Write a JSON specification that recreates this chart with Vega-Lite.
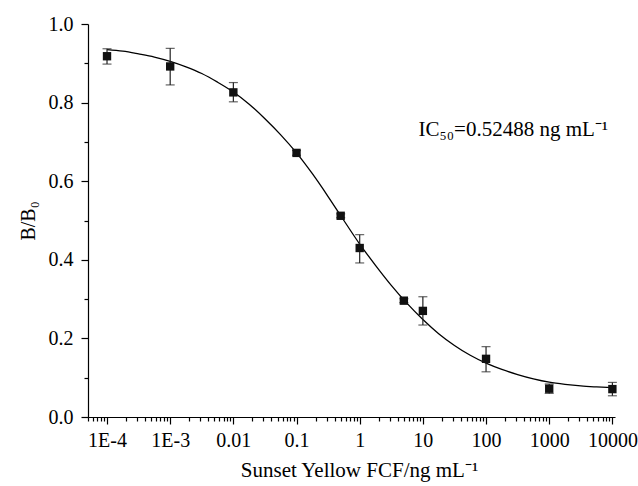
{
  "$schema": "https://vega.github.io/schema/vega-lite/v6.json",
  "width": 527,
  "height": 393,
  "autosize": "none",
  "padding": {"left": 88, "top": 24, "right": 23, "bottom": 69},
  "background": "white",
  "datasets": {
    "pts": [
      {"x": 0.0001, "y": 0.918, "lo": 0.898, "hi": 0.937},
      {"x": 0.001, "y": 0.892, "lo": 0.845, "hi": 0.938},
      {"x": 0.01, "y": 0.826, "lo": 0.802, "hi": 0.851},
      {"x": 0.1, "y": 0.672, "lo": 0.666, "hi": 0.678},
      {"x": 0.5, "y": 0.512, "lo": 0.507, "hi": 0.517},
      {"x": 1, "y": 0.430, "lo": 0.392, "hi": 0.464},
      {"x": 5, "y": 0.296, "lo": 0.291, "hi": 0.301},
      {"x": 10, "y": 0.270, "lo": 0.234, "hi": 0.306},
      {"x": 100, "y": 0.148, "lo": 0.115, "hi": 0.179},
      {"x": 1000, "y": 0.072, "lo": 0.060, "hi": 0.084},
      {"x": 10000, "y": 0.071, "lo": 0.054, "hi": 0.088}
    ],
    "curve": [
      {"x": 0.0001, "y": 0.935},
      {"x": 0.000178, "y": 0.931},
      {"x": 0.000316, "y": 0.924},
      {"x": 0.000562, "y": 0.916},
      {"x": 0.001, "y": 0.905},
      {"x": 0.00178, "y": 0.891},
      {"x": 0.00316, "y": 0.874},
      {"x": 0.00562, "y": 0.852},
      {"x": 0.01, "y": 0.827},
      {"x": 0.0178, "y": 0.796},
      {"x": 0.0316, "y": 0.759},
      {"x": 0.0562, "y": 0.718},
      {"x": 0.1, "y": 0.672},
      {"x": 0.178, "y": 0.619},
      {"x": 0.316, "y": 0.561},
      {"x": 0.562, "y": 0.500},
      {"x": 1, "y": 0.440},
      {"x": 1.778, "y": 0.386},
      {"x": 3.162, "y": 0.335},
      {"x": 5.623, "y": 0.289},
      {"x": 10, "y": 0.248},
      {"x": 17.78, "y": 0.212},
      {"x": 31.62, "y": 0.182},
      {"x": 56.23, "y": 0.157},
      {"x": 100, "y": 0.137},
      {"x": 177.8, "y": 0.121},
      {"x": 316.2, "y": 0.108},
      {"x": 562.3, "y": 0.097},
      {"x": 1000, "y": 0.0885},
      {"x": 1778, "y": 0.083},
      {"x": 3162, "y": 0.079},
      {"x": 5623, "y": 0.0765},
      {"x": 10000, "y": 0.0745}
    ],
    "ann": [
      {"x": 8.5, "y": 0.714, "label": "IC₅₀=0.52488 ng mL⁻¹"}
    ]
  },
  "layer": [
    {
      "data": {"name": "curve"},
      "mark": {"type": "line", "color": "black", "strokeWidth": 1.3, "interpolate": "monotone"},
      "encoding": {
        "x": {
          "field": "x", "type": "quantitative",
          "scale": {"type": "log", "domain": [0.00005, 11000], "nice": false},
          "axis": {
            "orient": "bottom",
            "values": [0.0001, 0.001, 0.01, 0.1, 1, 10, 100, 1000, 10000],
            "labelExpr": "datum.value < 0.00015 ? '1E-4' : datum.value < 0.0015 ? '1E-3' : format(datum.value, '~g')",
            "tickSize": 7,
            "labelPadding": 6,
            "labelFlush": false,
            "labelOverlap": false,
            "labelFont": "Liberation Serif",
            "labelFontSize": 20,
            "title": "Sunset Yellow FCF/ng mL⁻¹",
            "titleFont": "Liberation Serif",
            "titleFontSize": 21,
            "titlePadding": 9,
            "titleX": 271
          }
        },
        "y": {
          "field": "y", "type": "quantitative",
          "scale": {"domain": [0, 1], "nice": false, "zero": false},
          "axis": {
            "orient": "left",
            "values": [0, 0.2, 0.4, 0.6, 0.8, 1.0],
            "format": ".1f",
            "tickSize": 7,
            "labelPadding": 8,
            "labelFlush": false,
            "labelOverlap": false,
            "labelFont": "Liberation Serif",
            "labelFontSize": 20,
            "title": "B/B₀",
            "titleFont": "Liberation Serif",
            "titleFontSize": 20,
            "titlePadding": 10
          }
        }
      }
    },
    {
      "data": {"name": "pts"},
      "mark": {"type": "rule", "color": "#222", "strokeWidth": 1.2},
      "encoding": {
        "x": {"field": "x", "type": "quantitative", "scale": {"type": "log", "domain": [0.00005, 11000], "nice": false}, "axis": null},
        "y": {"field": "lo", "type": "quantitative", "scale": {"domain": [0, 1], "nice": false, "zero": false}, "axis": null},
        "y2": {"field": "hi"}
      }
    },
    {
      "data": {"name": "pts"},
      "mark": {"type": "tick", "orient": "horizontal", "size": 9, "thickness": 1.2, "color": "#222"},
      "encoding": {
        "x": {"field": "x", "type": "quantitative", "scale": {"type": "log", "domain": [0.00005, 11000], "nice": false}, "axis": null},
        "y": {"field": "lo", "type": "quantitative", "scale": {"domain": [0, 1], "nice": false, "zero": false}, "axis": null}
      }
    },
    {
      "data": {"name": "pts"},
      "mark": {"type": "tick", "orient": "horizontal", "size": 9, "thickness": 1.2, "color": "#222"},
      "encoding": {
        "x": {"field": "x", "type": "quantitative", "scale": {"type": "log", "domain": [0.00005, 11000], "nice": false}, "axis": null},
        "y": {"field": "hi", "type": "quantitative", "scale": {"domain": [0, 1], "nice": false, "zero": false}, "axis": null}
      }
    },
    {
      "data": {"name": "pts"},
      "mark": {"type": "square", "filled": true, "color": "#111", "size": 70, "opacity": 1},
      "encoding": {
        "x": {
          "field": "x", "type": "quantitative",
          "scale": {"type": "log", "domain": [0.00005, 11000], "nice": false},
          "axis": {
            "orient": "bottom",
            "values": [0.00005, 0.00006, 0.00007, 0.00008, 0.00009,
                       0.0002, 0.0003, 0.0004, 0.0005, 0.0006, 0.0007, 0.0008, 0.0009,
                       0.002, 0.003, 0.004, 0.005, 0.006, 0.007, 0.008, 0.009,
                       0.02, 0.03, 0.04, 0.05, 0.06, 0.07, 0.08, 0.09,
                       0.2, 0.3, 0.4, 0.5, 0.6, 0.7, 0.8, 0.9,
                       2, 3, 4, 5, 6, 7, 8, 9,
                       20, 30, 40, 50, 60, 70, 80, 90,
                       200, 300, 400, 500, 600, 700, 800, 900,
                       2000, 3000, 4000, 5000, 6000, 7000, 8000, 9000],
            "tickSize": 4,
            "labels": false,
            "domain": false,
            "title": null
          }
        },
        "y": {
          "field": "y", "type": "quantitative",
          "scale": {"domain": [0, 1], "nice": false, "zero": false},
          "axis": {
            "orient": "left",
            "values": [0.1, 0.3, 0.5, 0.7, 0.9],
            "tickSize": 4,
            "labels": false,
            "domain": false,
            "title": null
          }
        }
      }
    },
    {
      "data": {"name": "ann"},
      "mark": {"type": "text", "align": "left", "baseline": "alphabetic", "font": "Liberation Serif", "fontSize": 21, "color": "black"},
      "encoding": {
        "x": {"field": "x", "type": "quantitative", "scale": {"type": "log", "domain": [0.00005, 11000], "nice": false}, "axis": null},
        "y": {"field": "y", "type": "quantitative", "scale": {"domain": [0, 1], "nice": false, "zero": false}, "axis": null},
        "text": {"field": "label"}
      }
    }
  ],
  "resolve": {"axis": {"x": "independent", "y": "independent"}},
  "config": {
    "view": {"stroke": null},
    "axis": {
      "grid": false,
      "domainColor": "black",
      "domainWidth": 1.2,
      "tickColor": "black",
      "tickWidth": 1.2,
      "labelColor": "black",
      "titleColor": "black",
      "labelFont": "Liberation Serif",
      "titleFont": "Liberation Serif",
      "labelFontSize": 20,
      "titleFontSize": 20,
      "titleFontWeight": "normal"
    }
  }
}
